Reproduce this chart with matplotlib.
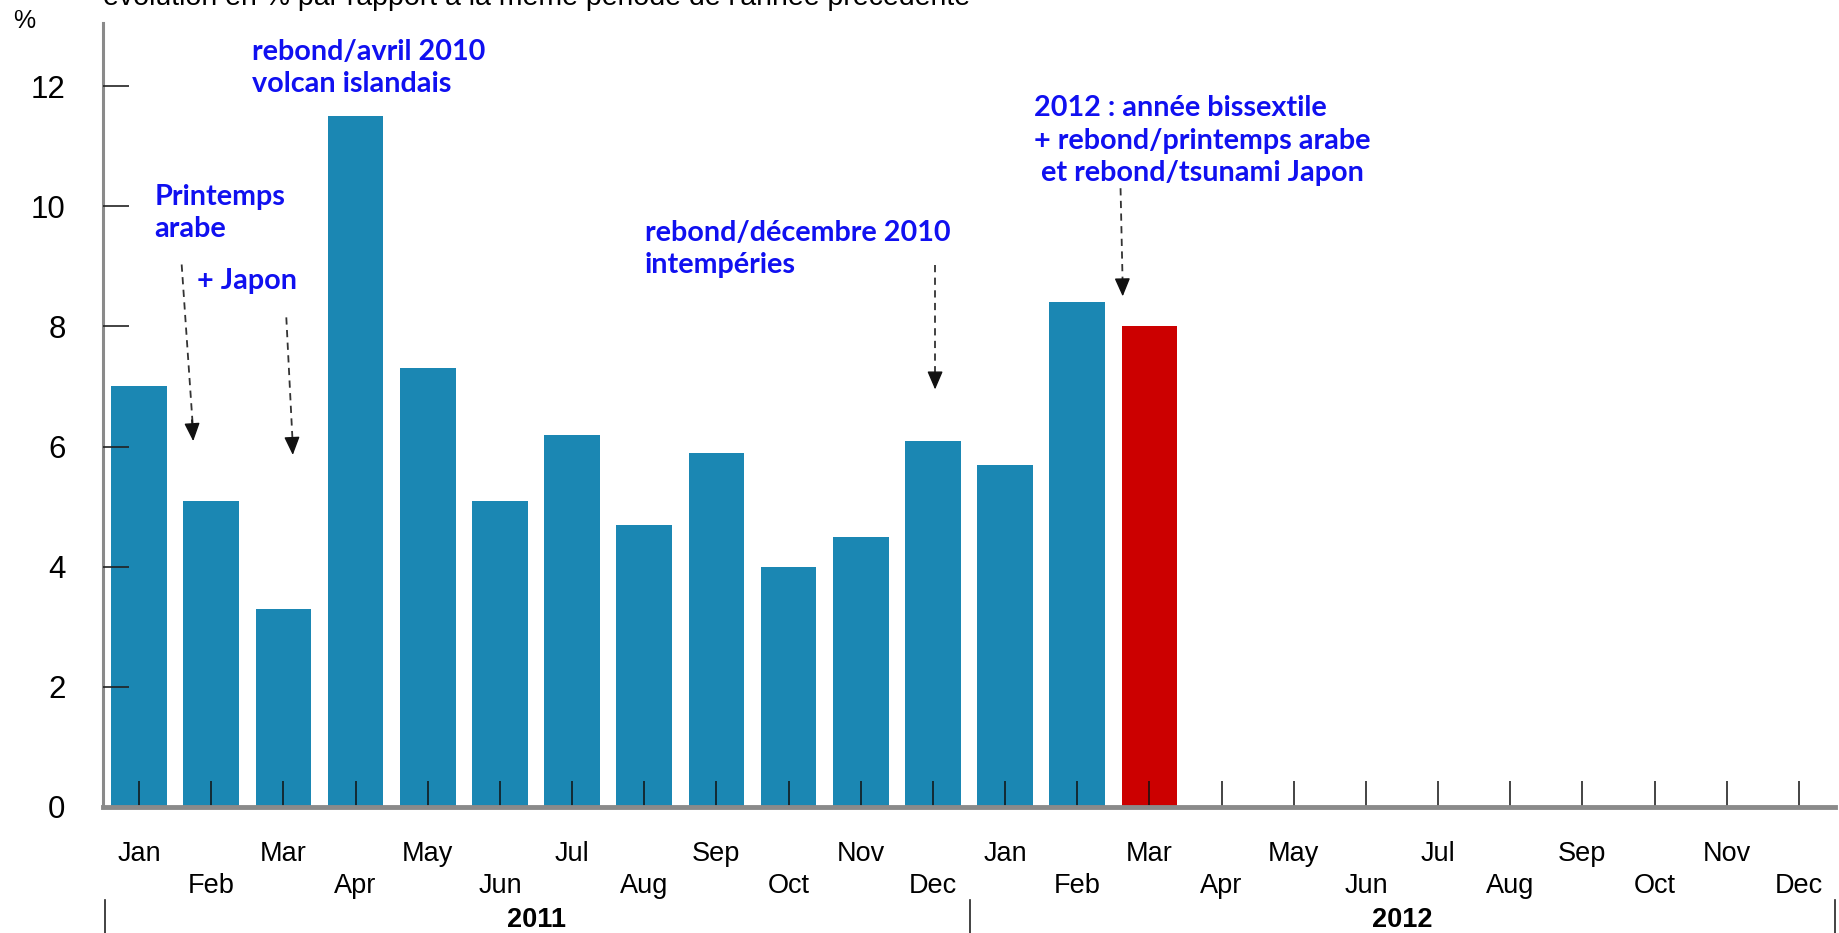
import matplotlib
matplotlib.use("Agg")
import matplotlib.pyplot as plt

months = ['Jan', 'Feb', 'Mar', 'Apr', 'May', 'Jun', 'Jul', 'Aug', 'Sep', 'Oct', 'Nov', 'Dec']
years = ['2011', '2012']
values_2011 = [7.0, 5.1, 3.3, 11.5, 7.3, 5.1, 6.2, 4.7, 5.9, 4.0, 4.5, 6.1]
values_2012 = [5.7, 8.4, 8.0]
yticks = [0, 2, 4, 6, 8, 10, 12]

BLUE = '#1B87B3'
RED = '#CC0000'
ANN = '#1010F0'

plt.rcParams['font.family'] = ['Liberation Sans', 'DejaVu Sans']

fig = plt.figure(figsize=(18.39, 9.33), dpi=100)
ax = fig.add_axes([103/1839, 1-807/933, (1835-103)/1839, (807-23)/933])
ax.set_axisbelow(False)

values = values_2011 + values_2012
n_all = len(months) * len(years)
xs = list(range(len(values)))
colors = [BLUE] * (len(values) - 1) + [RED]
ax.bar(xs, values, width=0.77, color=colors, edgecolor='none', zorder=1)

ax.set_xlim(-0.5, n_all - 0.5)
ax.set_ylim(0, 13.05)

for s in ['top', 'right']:
    ax.spines[s].set_visible(False)
ax.spines['left'].set_color('#8a8a8a')
ax.spines['left'].set_linewidth(2.2)
ax.spines['bottom'].set_color('#8a8a8a')
ax.spines['bottom'].set_linewidth(3.5)
ax.spines['bottom'].set_zorder(3)

ax.set_yticks(yticks)
ax.set_yticklabels([str(v) for v in yticks])
ax.tick_params(axis='y', direction='in', length=19, width=1.2, color='#222222',
               labelsize=22.5, pad=27)
ax.set_xticks(range(n_all))
ax.set_xticklabels([])
ax.tick_params(axis='x', direction='in', length=18.5, width=1.1, color='#111111')

# month labels on two rows
trans = ax.get_xaxis_transform()
axh = 784
for i in range(n_all):
    m = months[i % 12]
    y = -47/axh if i % 2 == 0 else -79/axh
    ax.text(i, y, m, transform=trans, ha='center', va='center', fontsize=19.5, clip_on=False)

# year labels and separators
for k, yr in enumerate(years):
    ax.text(k*12 + 5.5, -113/axh, yr, transform=trans, ha='center', va='center',
            fontsize=19.5, fontweight='bold', clip_on=False)
for xsep in [-0.47, 11.52, 23.5]:
    ax.plot([xsep, xsep], [-93/axh, -130/axh], transform=trans, color='#222222',
            lw=1.2, clip_on=False)

# % label and (clipped) subtitle
fig.text(13/1839, 1-21/933, '%', fontsize=18, ha='left', va='center')
fig.text(103/1839, 1-5/933, "évolution en % par rapport à la même période de l'année précédente",
         fontsize=20.5, ha='left', va='baseline')

# annotations
afont = dict(family=['Lato', 'DejaVu Sans'], fontweight='bold', fontsize=20.7, color=ANN,
             linespacing=1.3)
ax.text(1.56, 12.3, 'rebond/avril 2010\nvolcan islandais', ha='left', va='center', **afont)
ax.text(0.21, 9.89, 'Printemps\narabe', ha='left', va='center', **afont)
ax.text(0.80, 8.75, '+ Japon', ha='left', va='center', **afont)
ax.text(7.01, 9.29, 'rebond/décembre 2010\nintempéries', ha='left', va='center', **afont)
ax.text(12.40, 11.09, '2012 : année bissextile\n+ rebond/printemps arabe\n et rebond/tsunami Japon',
        ha='left', va='center', **afont)

line_kw = dict(color='#333333', lw=1.3, linestyle=(0, (4, 3)))
head = dict(arrowstyle='-|>,head_length=0.7,head_width=0.3', color='#111111', lw=1,
            mutation_scale=16, shrinkA=0, shrinkB=0)
for (x0, y0, x1, y1) in [(0.59, 9.03, 0.75, 6.09),
                         (2.04, 8.15, 2.13, 5.86),
                         (11.03, 9.02, 11.03, 6.95),
                         (13.60, 10.3, 13.63, 8.5)]:
    ax.plot([x0, x1], [y0, y1 + 0.15], **line_kw)
    ax.annotate('', xy=(x1, y1), xytext=(x1 - (x1 - x0) * 0.12, y1 + (y0 - y1) * 0.12),
                arrowprops=head)

fig.savefig('out.png', dpi=100)
